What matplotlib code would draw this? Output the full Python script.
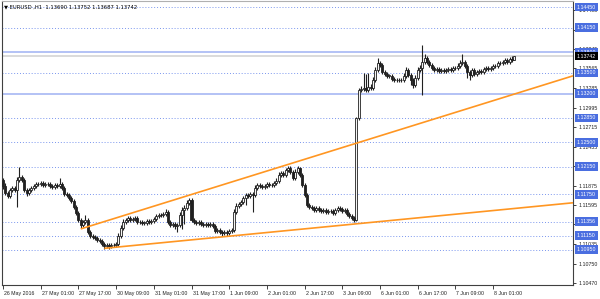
import matplotlib
matplotlib.use('Agg')
import matplotlib.pyplot as plt
import matplotlib.transforms as mtransforms
import numpy as np

# ---------------- data (EURUSD H1) ----------------
first_open = 1.1195
closes = [
    1.1187, 1.1177, 1.1173, 1.1181, 1.1184, 1.1181, 1.1196, 1.1200, 1.1196, 1.1181,
    1.1177, 1.1181, 1.1184, 1.1187, 1.1190, 1.1190, 1.1191, 1.1188, 1.1190, 1.1190,
    1.1187, 1.1185, 1.1188, 1.1187, 1.1190, 1.1184, 1.1175, 1.1174, 1.1170, 1.1165,
    1.1157, 1.1148, 1.1138, 1.1131, 1.1135, 1.1138, 1.1121, 1.1115, 1.1113, 1.1112,
    1.1109, 1.1108, 1.1103, 1.1100, 1.1102, 1.1100, 1.1102, 1.1102, 1.1103, 1.1115,
    1.1126, 1.1135, 1.1138, 1.1141, 1.1138, 1.1139, 1.1141, 1.1135, 1.1135, 1.1134,
    1.1134, 1.1136, 1.1135, 1.1136, 1.1139, 1.1144, 1.1145, 1.1145, 1.1146, 1.1149,
    1.1135, 1.1131, 1.1132, 1.1129, 1.1131, 1.1145, 1.1152, 1.1155, 1.1162, 1.1167,
    1.1138, 1.1135, 1.1134, 1.1135, 1.1132, 1.1131, 1.1132, 1.1131, 1.1132, 1.1129,
    1.1122, 1.1123, 1.1121, 1.1119, 1.1121, 1.1119, 1.1122, 1.1123, 1.1149, 1.1158,
    1.1161, 1.1164, 1.1170, 1.1174, 1.1173, 1.1175, 1.1174, 1.1184, 1.1188, 1.1187,
    1.1185, 1.1187, 1.1190, 1.1188, 1.1188, 1.1191, 1.1194, 1.1203, 1.1206, 1.1203,
    1.1210, 1.1213, 1.1207, 1.1198, 1.1207, 1.1213, 1.1203, 1.1188, 1.1174, 1.1160,
    1.1157, 1.1155, 1.1152, 1.1155, 1.1152, 1.1151, 1.1152, 1.1149, 1.1151, 1.1151,
    1.1148, 1.1152, 1.1155, 1.1154, 1.1151, 1.1152, 1.1147, 1.1144, 1.1141, 1.1138,
    1.1285, 1.1325, 1.1327, 1.1328, 1.1325, 1.1330, 1.1328, 1.1340, 1.1354, 1.1364,
    1.1361, 1.1351, 1.1348, 1.1346, 1.1346, 1.1341, 1.1340, 1.1340, 1.1340, 1.1340,
    1.1346, 1.1354, 1.1347, 1.1340, 1.1333, 1.1343, 1.1354, 1.1357, 1.1366, 1.1372,
    1.1366, 1.1361, 1.1357, 1.1354, 1.1356, 1.1353, 1.1354, 1.1353, 1.1354, 1.1356,
    1.1354, 1.1357, 1.1357, 1.1360, 1.1364, 1.1366, 1.1360, 1.1351, 1.1347, 1.1354,
    1.1348, 1.1351, 1.1353, 1.1351, 1.1356, 1.1357, 1.1356, 1.1357, 1.1360, 1.1360,
    1.1364, 1.1364, 1.1366, 1.1369, 1.1366, 1.1370, 1.1369, 1.1374,
]
# wick lengths beyond the body, in pips
upper_wick = [
    3, 4, 3, 3, 3, 3, 4, 14, 3, 3,   3, 3, 3, 3, 3, 3, 3, 3, 3, 3,
    3, 3, 3, 3, 8, 3, 3, 3, 3, 3,    3, 3, 3, 3, 3, 7, 3, 3, 3, 3,
    3, 3, 3, 3, 3, 3, 3, 3, 3, 4,    4, 4, 3, 3, 3, 3, 3, 3, 3, 3,
    3, 3, 3, 3, 3, 3, 3, 3, 3, 4,    3, 3, 3, 3, 3, 4, 4, 4, 4, 3,
    3, 3, 3, 3, 3, 3, 3, 3, 3, 3,    3, 3, 3, 3, 3, 3, 3, 3, 4, 4,
    3, 3, 3, 3, 3, 3, 3, 4, 3, 3,    3, 3, 3, 3, 3, 3, 4, 4, 3, 3,
    3, 3, 3, 3, 4, 3, 2, 3, 3, 3,    3, 3, 3, 3, 3, 3, 3, 3, 3, 3,
    3, 3, 3, 3, 3, 3, 3, 3, 3, 3,    1, 3, 4, 22, 20, 20, 4, 4, 4, 7,
    3, 3, 3, 3, 3, 3, 3, 3, 3, 3,    4, 5, 3, 3, 3, 4, 4, 4, 24, 5,
    3, 3, 3, 3, 3, 3, 3, 3, 3, 3,    3, 3, 3, 4, 4, 11, 3, 3, 3, 3,
    3, 3, 3, 3, 3, 3, 3, 3, 3, 3,    3, 3, 3, 3, 3, 3, 4, 1,
]
lower_wick = [
    4, 3, 3, 3, 3, 3, 24, 3, 3, 3,   4, 3, 3, 3, 3, 3, 3, 3, 3, 3,
    3, 3, 3, 3, 3, 3, 3, 3, 3, 3,    3, 3, 3, 5, 3, 3, 3, 3, 3, 3,
    3, 3, 3, 4, 3, 4, 3, 3, 3, 3,    3, 3, 3, 3, 3, 3, 3, 3, 3, 3,
    3, 3, 3, 3, 3, 3, 3, 3, 3, 3,    3, 3, 3, 4, 8, 3, 20, 20, 3, 3,
    3, 3, 3, 3, 3, 3, 3, 3, 3, 3,    3, 3, 3, 4, 3, 4, 3, 3, 3, 3,
    3, 3, 3, 10, 3, 3, 25, 3, 3, 3,  3, 3, 3, 3, 3, 3, 3, 3, 3, 3,
    3, 3, 3, 3, 3, 3, 3, 3, 3, 3,    3, 3, 3, 3, 3, 3, 3, 3, 3, 3,
    3, 3, 3, 3, 3, 3, 3, 3, 3, 3,    1, 3, 3, 3, 3, 3, 3, 3, 3, 3,
    3, 3, 3, 3, 3, 3, 3, 3, 3, 3,    3, 3, 3, 7, 5, 3, 3, 3, 39, 3,
    3, 3, 3, 3, 3, 3, 3, 3, 3, 3,    3, 3, 3, 3, 3, 3, 3, 8, 7, 3,
    3, 3, 3, 3, 3, 3, 3, 3, 3, 3,    3, 3, 3, 3, 3, 3, 3, 0,
]

time_tick_index = [0, 16, 32, 48, 64, 80, 96, 112, 128, 144, 160, 176, 192, 208]
time_tick_labels = ['26 May 2016', '27 May 01:00', '27 May 17:00', '30 May 09:00',
                    '31 May 01:00', '31 May 17:00', '1 Jun 09:00', '2 Jun 01:00',
                    '2 Jun 17:00', '3 Jun 09:00', '6 Jun 01:00', '6 Jun 17:00',
                    '7 Jun 09:00', '8 Jun 01:00']
price_ticks = [1.14405, 1.14125, 1.13845, 1.13565, 1.13285, 1.12995, 1.12715,
               1.12435, 1.12155, 1.11875, 1.11595, 1.11315, 1.11035, 1.10750, 1.10470]
dotted_levels = [1.14450, 1.14150, 1.13500, 1.12850, 1.12500, 1.12150,
                 1.11750, 1.11356, 1.11150, 1.10950]
solid_levels = [1.13800, 1.13200]
current_price = 1.13742
title_text = '\u25BC EURUSD ,H1  1.13690 1.13752 1.13687 1.13742'
# trendline anchor points (bar index, price)
upper_trend = [(33, 1.1125), (121, 1.1218)]
lower_trend = [(43, 1.1097), (149, 1.1132)]

# ---------------- build OHLC ----------------
pip = 0.0001
c = np.array(closes)
o = np.concatenate([[first_open], c[:-1]])
hi = np.maximum(o, c) + np.array(upper_wick) * pip
lo = np.minimum(o, c) - np.array(lower_wick) * pip
idx = np.arange(len(c))

FONT = ['Liberation Sans', 'DejaVu Sans']
FS = 3.8
plt.rcParams['font.family'] = FONT

fig = plt.figure(figsize=(6.0, 2.99), dpi=100, facecolor='white')
ax = fig.add_axes([2/600, 14/299, 571/600, 284/299])
ax.set_facecolor('white')
xmin, xmax = -0.42, 241.9
ax.set_xlim(xmin, xmax)
ax.set_ylim(1.10441, 1.14537)

# horizontal levels
for lv in dotted_levels:
    ax.axhline(lv, color='#7a96ee', lw=0.7, ls=(0, (1, 2)), zorder=1)
for lv in solid_levels:
    ax.axhline(lv, color='#9fb1f3', lw=1.1, zorder=1)
ax.axhline(current_price, color='#d4d4d4', lw=1.2, zorder=1)

# candles
ax.vlines(idx, lo, hi, color='#202020', lw=0.8, zorder=3)
bull = c >= o
bot = np.minimum(o, c)
height = np.maximum(np.abs(c - o), 0.00003)
ax.bar(idx[bull], height[bull], bottom=bot[bull], width=0.85, color='#f4f4f4',
       edgecolor='#202020', linewidth=0.6, zorder=4)
ax.bar(idx[~bull], height[~bull], bottom=bot[~bull], width=0.85, color='#202020',
       edgecolor='#202020', linewidth=0.6, zorder=4)

# trendlines (rays to the right edge)
for (x0, y0), (x1, y1) in (upper_trend, lower_trend):
    slope = (y1 - y0) / (x1 - x0)
    ax.plot([x0, xmax], [y0, y0 + slope * (xmax - x0)], color='#ff9622',
            lw=1.2, zorder=5, solid_capstyle='butt')

# spines
for s in ax.spines.values():
    s.set_color('#404040')
    s.set_linewidth(0.8)
ax.spines['top'].set_color('#b0b0b0')

# right price axis
ax.yaxis.tick_right()
ax.set_yticks(price_ticks)
ax.set_yticklabels([f'{v:.5f}' for v in price_ticks])
ax.tick_params(axis='y', direction='out', length=2, width=0.6, pad=2,
               labelsize=FS, colors='#222222')

# bottom time axis
ax.set_xticks(time_tick_index)
ax.set_xticklabels(time_tick_labels)
ax.tick_params(axis='x', direction='out', length=3, width=0.6, pad=1.5,
               labelsize=FS, colors='#222222')
off = mtransforms.ScaledTranslation(1/100, 0, fig.dpi_scale_trans)
for lbl in ax.get_xticklabels():
    lbl.set_horizontalalignment('left')
    lbl.set_transform(lbl.get_transform() + off)

# highlighted price labels
blend = mtransforms.blended_transform_factory(ax.transAxes, ax.transData)
tx = 1.0 + 4/571
for lv in dotted_levels + solid_levels:
    ax.text(tx, lv, f'{lv:.5f}', transform=blend, ha='left', va='center',
            fontsize=FS, color='white', clip_on=False, zorder=10,
            bbox=dict(boxstyle='square,pad=0.35', fc='#4a6ee0', ec='none'))
ax.text(tx, current_price, f'{current_price:.5f}', transform=blend, ha='left',
        va='center', fontsize=FS, color='white', clip_on=False, zorder=11,
        bbox=dict(boxstyle='square,pad=0.35', fc='black', ec='none'))

# title
fig.text(4/600, 1 - 7/299, title_text, ha='left', va='center', fontsize=FS,
         color='black', family=['DejaVu Sans'])

fig.savefig('out.png', dpi=100, facecolor='white')
